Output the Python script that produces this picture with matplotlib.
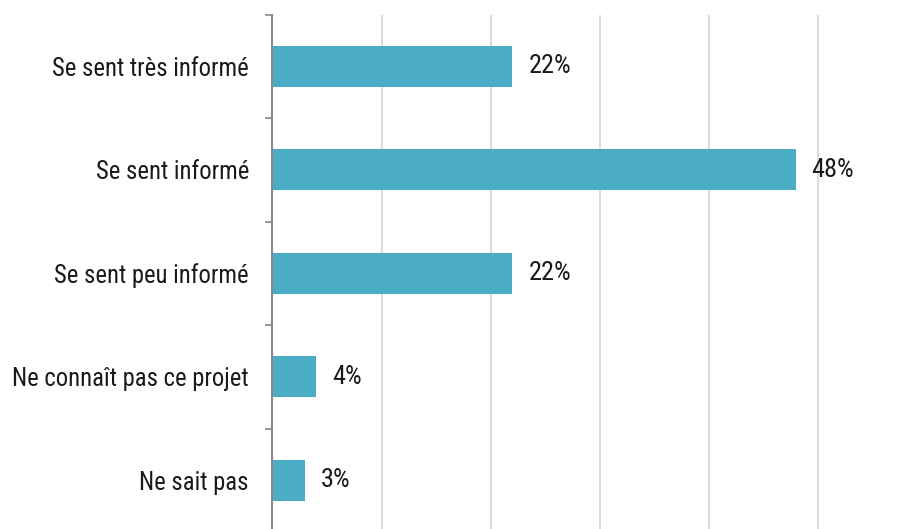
import numpy as np
import matplotlib.pyplot as plt
from matplotlib.ticker import FixedLocator

categories = ["Se sent très informé", "Se sent informé", "Se sent peu informé",
              "Ne connaît pas ce projet", "Ne sait pas"]
values = [22, 48, 22, 4, 3]
labels = ["22%", "48%", "22%", "4%", "3%"]

plt.rcParams['font.family'] = ['Liberation Sans Narrow', 'Arial Narrow', 'Roboto Condensed',
                               'Archivo Narrow', 'Liberation Sans', 'DejaVu Sans']

BAR = "#4BACC6"
SPINE = "#898989"
GRID = "#D9D9D9"
TXT = "#1a1a1a"

fig = plt.figure(figsize=(9.12, 5.29), dpi=100)
ax = fig.add_axes([272.5 / 912, -3 / 529, 1 - 272.5 / 912 - 0.008, 517.5 / 529])

y = np.arange(len(categories))
ax.barh(y, values, height=0.4, color=BAR, zorder=3)

# value labels right of each bar
for yi, v, t in zip(y, values, labels):
    ax.annotate(t, (v, yi), xytext=(11.5, 0), textcoords="offset points",
                va="center", ha="left", fontsize=19, color=TXT)

ax.set_ylim(len(categories) - 0.5, -0.5)
ax.set_xlim(0, 58)

ax.set_yticks(y)
ax.set_yticklabels(categories, fontsize=17.7, color=TXT)
ax.yaxis.set_minor_locator(FixedLocator(np.arange(-0.5, len(categories), 1)))
ax.tick_params(axis="y", which="major", length=0, pad=17)
ax.tick_params(axis="y", which="minor", length=5, width=1.2, color=SPINE)

ax.set_xticks([10, 20, 30, 40, 50])
ax.xaxis.grid(True, color=GRID, linewidth=1.3, zorder=0)
ax.tick_params(axis="x", length=0, labelbottom=False)

for s in ["top", "right", "bottom"]:
    ax.spines[s].set_visible(False)
ax.spines["left"].set_color(SPINE)
ax.spines["left"].set_linewidth(1.5)
ax.spines["left"].set_zorder(4)

fig.savefig("out.png", dpi=100)
